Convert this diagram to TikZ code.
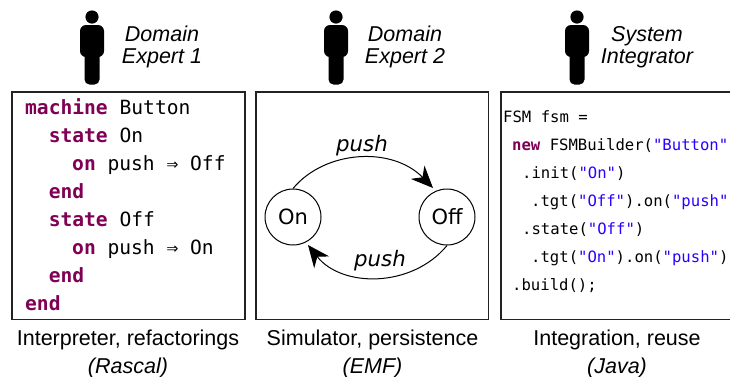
\documentclass[tikz,border=0pt]{standalone}
\usepackage{fontspec}
\setmainfont{Liberation Sans}
\newfontfamily\dejasans{DejaVu Sans}
\newfontfamily\dejamono{DejaVu Sans Mono}
\usetikzlibrary{arrows.meta}
\definecolor{kw}{HTML}{7F0055}
\definecolor{strc}{HTML}{2A00FF}
\definecolor{edgec}{HTML}{222222}
\newcommand{\kwd}[1]{\textcolor{kw}{\bfseries #1}}
\newcommand{\strl}[1]{\textcolor{strc}{#1}}
\tikzset{
  panel/.style={draw=edgec,line width=1.3pt,fill=white},
  who/.style={font=\fontsize{21.5}{21.5}\selectfont\itshape,align=center,inner sep=0pt},
  captext/.style={font=\fontsize{21.5}{28}\selectfont,align=center,inner sep=0pt},
  codeL/.style={font=\dejamono\fontsize{19.6}{19.6}\selectfont,anchor=base west,inner sep=0pt},
  codeR/.style={font=\dejamono\fontsize{15.6}{15.6}\selectfont,anchor=base west,inner sep=0pt},
  stateN/.style={circle,draw=black,line width=1pt,minimum size=56pt,inner sep=0pt,font=\dejasans\fontsize{21}{21}\selectfont},
  edgeL/.style={font=\dejasans\fontsize{21.3}{21.3}\selectfont\itshape,inner sep=0pt},
  trans/.style={line width=1pt,-{Stealth[length=22pt,width=19pt,inset=7pt]}},
  personpart/.style={fill=black,draw=none}
}
\newcommand{\person}[1]{%
  \begin{scope}[xshift=#1pt]
    \fill[personpart] (0,17) circle (6.6);
    \fill[personpart,rounded corners=6pt] (-12,25) rectangle (12,57);
    \fill[personpart,rounded corners=5pt] (-7.5,45) rectangle (7.5,84.5);
  \end{scope}}
\begin{document}
\begin{tikzpicture}[x=1pt,y=-1pt]
\useasboundingbox (0,0) rectangle (730,376);
\begin{scope}
\clip (0,0) rectangle (730,376);
\person{92}
\person{336}
\person{577}
\node[who] (w1) at (162,47) {Domain\\[1pt]Expert 1};
\node[who] (w2) at (405,47) {Domain\\[1pt]Expert 2};
\node[who] (w3) at (647,47) {System\\[1pt]Integrator};

\draw[panel] (12,92) rectangle (245,319.5);
\draw[panel] (256,92) rectangle (488.5,319.5);
\draw[panel] (501,92) rectangle (745,319.5);

\node[codeL] (l1) at (25,114) {\kwd{machine} Button};
\node[codeL] (l2) at (48.6,142) {\kwd{state} On};
\node[codeL] (l3) at (72,170) {\kwd{on} push ⇒ Off};
\node[codeL] (l4) at (48.6,198) {\kwd{end}};
\node[codeL] (l5) at (48.6,226) {\kwd{state} Off};
\node[codeL] (l6) at (72,254) {\kwd{on} push ⇒ On};
\node[codeL] (l7) at (48.6,282) {\kwd{end}};
\node[codeL] (l8) at (25,310) {\kwd{end}};

\node[stateN] (on) at (293,217) {On};
\node[stateN] (off) at (447,217) {Off};
\coordinate (offtip) at (433,188);
\coordinate (ontip) at (308,245);
\draw[trans] (on.north) .. controls (325,150) and (392,146) .. (offtip);
\draw[trans] (off.south) .. controls (412,288) and (342,288) .. (ontip);
\node[edgeL] (p1) at (362,146) {push};
\node[edgeL] (p2) at (380,261) {push};

\node[codeR] (r1) at (503,122) {FSM fsm =};
\node[codeR] (r2) at (512,150) {\kwd{new} FSMBuilder(\strl{"Button"}};
\node[codeR] (r3) at (522,178) {.init(\strl{"On"})};
\node[codeR] (r4) at (531,206) {.tgt(\strl{"Off"}).on(\strl{"push"}};
\node[codeR] (r5) at (522,234) {.state(\strl{"Off"})};
\node[codeR] (r6) at (531,262) {.tgt(\strl{"On"}).on(\strl{"push"})};
\node[codeR] (r7) at (512,290) {.build();};

\node[captext] (c1) at (128,353.5) {Interpreter, refactorings\\\textit{(Rascal)}};
\node[captext] (c2) at (372.5,353.5) {Simulator, persistence\\\textit{(EMF)}};
\node[captext] (c3) at (617,353.5) {Integration, reuse\\\textit{(Java)}};
\end{scope}
\end{tikzpicture}
\end{document}
